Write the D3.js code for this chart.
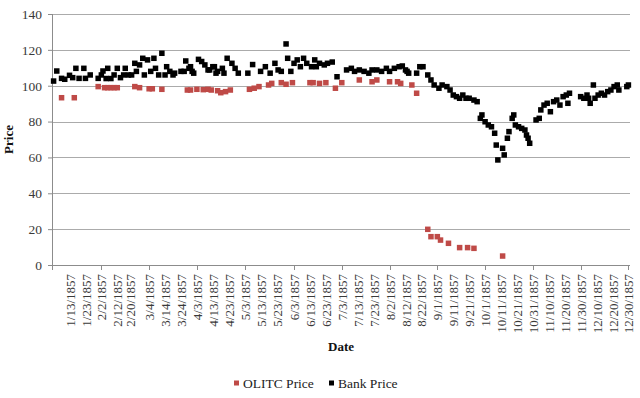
<!DOCTYPE html>
<html>
<head>
<meta charset="utf-8">
<script src="https://cdn.jsdelivr.net/npm/d3@7"></script>
<style>
	body { margin: 0; background: #fff; }
	text { font-family: "Liberation Serif", "Times New Roman", serif; }
</style>
</head>
<body>
<div id="appChart"></div>
<script>
///////////////////////////////////////////////////////////////////////////
//////////////////////////// data /////////////////////////////////////////
///////////////////////////////////////////////////////////////////////////

const year = 1857;

// [month/day, price]
const bankPrice = [
	["1/3", 102.6], ["1/5", 108.2], ["1/8", 104.1], ["1/10", 103.6], ["1/13", 105.8],
	["1/15", 104.5], ["1/17", 109.7], ["1/19", 104.1], ["1/22", 109.7], ["1/23", 104.1],
	["1/26", 106], ["1/31", 104.1], ["2/2", 106], ["2/3", 108.2], ["2/5", 104],
	["2/6", 109.7], ["2/8", 104], ["2/10", 106], ["2/12", 109.7], ["2/14", 104.5],
	["2/16", 106], ["2/17", 109.7], ["2/19", 106], ["2/21", 106], ["2/23", 112.5],
	["2/24", 108], ["2/26", 111.6], ["2/28", 115.3], ["3/1", 106], ["3/3", 114.4],
	["3/5", 108], ["3/7", 115.3], ["3/8", 109.7], ["3/10", 106], ["3/12", 118.1],
	["3/14", 106], ["3/15", 110.6], ["3/17", 108], ["3/19", 106], ["3/20", 107],
	["3/24", 108], ["3/26", 108], ["3/27", 113.8], ["3/29", 109.7], ["3/30", 110.6],
	["3/31", 108], ["4/1", 107], ["4/4", 114.7], ["4/6", 113.5], ["4/8", 111.6],
	["4/10", 108.8], ["4/11", 108.8], ["4/13", 110.6], ["4/14", 110.6], ["4/15", 107],
	["4/16", 108], ["4/19", 109.7], ["4/20", 107], ["4/22", 115.3], ["4/25", 112.5],
	["4/27", 109.7], ["4/29", 107], ["5/5", 107], ["5/8", 111.8], ["5/13", 108],
	["5/16", 110.6], ["5/19", 107], ["5/22", 112.5], ["5/24", 108.8], ["5/26", 108],
	["5/29", 123.3], ["5/30", 115.3], ["6/1", 108], ["6/3", 112.5], ["6/5", 114.4],
	["6/7", 110.6], ["6/9", 115.3], ["6/11", 112.5], ["6/14", 110.6], ["6/16", 114.4],
	["6/17", 110.6], ["6/19", 112.5], ["6/22", 111.6], ["6/24", 112.5], ["6/27", 113.2],
	["6/30", 105], ["7/6", 108.8], ["7/9", 109.7], ["7/11", 108], ["7/14", 108.8],
	["7/17", 108], ["7/20", 107], ["7/22", 108.8], ["7/25", 108.8], ["7/28", 108],
	["7/31", 109.7], ["8/2", 108], ["8/5", 109.7], ["8/8", 110.6], ["8/10", 111],
	["8/12", 108.8], ["8/13", 108], ["8/14", 107], ["8/19", 107], ["8/21", 110.6],
	["8/23", 110.6], ["8/26", 106], ["8/28", 103.2], ["8/30", 100.4], ["9/2", 98.6],
	["9/4", 100.4], ["9/7", 99.5], ["9/9", 97.6], ["9/11", 94.8], ["9/13", 93.9],
	["9/15", 93], ["9/17", 94.8], ["9/19", 93], ["9/21", 93], ["9/24", 92],
	["9/26", 91.1], ["9/28", 81.8], ["9/29", 83.7], ["10/1", 79.9], ["10/3", 78.1],
	["10/5", 77.1], ["10/7", 73.5], ["10/8", 66.9], ["10/9", 58.6], ["10/12", 65.1],
	["10/13", 61.4], ["10/15", 70.7], ["10/16", 74.4], ["10/18", 81.8], ["10/19", 83.7],
	["10/20", 78.1], ["10/22", 77.1], ["10/24", 76.2], ["10/26", 75.3], ["10/27", 72.5],
	["10/28", 70.7], ["10/29", 67.9], ["11/2", 80.9], ["11/4", 81.8], ["11/5", 86.5],
	["11/7", 89.2], ["11/9", 90.2], ["11/11", 85.5], ["11/13", 91.1], ["11/15", 92],
	["11/17", 89.2], ["11/19", 93.9], ["11/21", 94.8], ["11/22", 90.2], ["11/23", 95.8],
	["11/30", 93.9], ["12/2", 93], ["12/4", 94.8], ["12/5", 93], ["12/6", 90.2],
	["12/8", 100.4], ["12/9", 93], ["12/11", 94.8], ["12/13", 95.8], ["12/15", 94.8],
	["12/17", 96.7], ["12/19", 97.6], ["12/21", 99.5], ["12/23", 100.4], ["12/24", 97.6],
	["12/29", 99.5], ["12/30", 100.4]
];

const olitcPrice = [
	["1/8", 93.3], ["1/16", 93.3], ["1/31", 99.5], ["2/4", 98.9], ["2/6", 98.9],
	["2/8", 98.9], ["2/10", 98.9], ["2/12", 98.9], ["2/23", 99.5], ["2/26", 98.9],
	["3/4", 98.3], ["3/6", 98.3], ["3/12", 98], ["3/28", 97.6], ["3/30", 97.6],
	["4/3", 98], ["4/7", 97.8], ["4/10", 98], ["4/12", 97.6], ["4/16", 97.2],
	["4/18", 96.1], ["4/21", 96.7], ["4/24", 97.6], ["5/6", 98], ["5/9", 98.6],
	["5/12", 99.5], ["5/18", 100.4], ["5/20", 101.3], ["5/26", 101.7], ["5/29", 100.8],
	["6/2", 101.7], ["6/13", 101.7], ["6/15", 101.7], ["6/19", 101.3], ["6/23", 101.7],
	["6/29", 98.6], ["7/3", 101.7], ["7/14", 103.2], ["7/22", 102.2], ["7/25", 103.2],
	["8/2", 102.2], ["8/7", 102.2], ["8/9", 101.3], ["8/16", 100.4], ["8/19", 95.8],
	["8/26", 19.9], ["8/28", 15.8], ["9/1", 15.8], ["9/3", 13.9], ["9/8", 12.1],
	["9/15", 9.7], ["9/20", 9.7], ["9/24", 9.3], ["10/12", 5.0]
];

const dateTicks = [
	"1/13/1857", "1/23/1857", "2/2/1857", "2/12/1857", "2/20/1857", "3/4/1857",
	"3/14/1857", "3/24/1857", "4/3/1857", "4/13/1857", "4/23/1857", "5/3/1857",
	"5/13/1857", "5/23/1857", "6/3/1857", "6/13/1857", "6/23/1857", "7/3/1857",
	"7/13/1857", "7/23/1857", "8/2/1857", "8/12/1857", "8/22/1857", "9/1/1857",
	"9/11/1857", "9/21/1857", "10/1/1857", "10/11/1857", "10/21/1857", "10/31/1857",
	"11/10/1857", "11/20/1857", "11/30/1857", "12/10/1857", "12/20/1857", "12/30/1857"
];

const priceTicks = [0, 20, 40, 60, 80, 100, 120, 140];

const seriesNames = ["OLITC Price", "Bank Price"];
const seriesColors = ["#bf4a47", "#000000"];

///////////////////////////////////////////////////////////////////////////
//////////////////////////// drawing function /////////////////////////////
///////////////////////////////////////////////////////////////////////////

const createChart = () => {
	const parseDay = d3.timeParse("%m/%d/%Y");

	const toPoints = (arr) => arr.map(([md, v]) => ({ date: parseDay(md + "/" + year), value: v }));

	const series = [toPoints(olitcPrice), toPoints(bankPrice)];

	//////////////////////////// accessors ////////////////////////////////////

	const xAccessor = (d) => d.date;
	const yAccessor = (d) => d.value;

	//////////////////////////// sizes ////////////////////////////////////////

	let dimensions = {
		width: 640,
		height: 398,
		margin: { top: 14, right: 10, bottom: 133, left: 52 }
	};
	dimensions.boundedWidth = dimensions.width - dimensions.margin.left - dimensions.margin.right;
	dimensions.boundedHeight = dimensions.height - dimensions.margin.top - dimensions.margin.bottom;

	const markSize = 5.5;

	//////////////////////////// svg //////////////////////////////////////////

	const wrapper = d3.select("#appChart")
		.append("svg")
		.attr("width", dimensions.width)
		.attr("height", dimensions.height);

	wrapper.append("rect")
		.attr("width", dimensions.width)
		.attr("height", dimensions.height)
		.attr("fill", "#fff");

	const bounds = wrapper.append("g")
		.attr("transform", `translate(${dimensions.margin.left},${dimensions.margin.top})`);

	//////////////////////////// scales ///////////////////////////////////////

	const xScale = d3.scaleTime()
		.domain([new Date(year, 0, 2), new Date(year, 11, 31)])
		.range([0, dimensions.boundedWidth]);

	const yScale = d3.scaleLinear()
		.domain([0, 140])
		.range([dimensions.boundedHeight, 0]);

	//////////////////////////// grid /////////////////////////////////////////

	bounds.append("g")
		.selectAll("line")
		.data(priceTicks.filter((d) => d > 0))
		.enter()
		.append("line")
		.attr("x1", 0)
		.attr("x2", dimensions.boundedWidth)
		.attr("y1", (d) => Math.round(yScale(d)) + 0.5)
		.attr("y2", (d) => Math.round(yScale(d)) + 0.5)
		.attr("stroke", "#ababab")
		.attr("stroke-width", 1);

	//////////////////////////// axes /////////////////////////////////////////

	const yAxis = bounds.append("g")
		.call(d3.axisLeft(yScale).tickValues(priceTicks).tickSize(4).tickPadding(6));
	yAxis.select(".domain").attr("stroke", "#8c8c8c").attr("d", `M0.5,0V${dimensions.boundedHeight}`);
	yAxis.selectAll(".tick line").attr("stroke", "#8c8c8c");
	yAxis.selectAll(".tick text")
		.attr("fill", "#3a3a3a")
		.style("font-size", "13.5px")
		.style("font-family", "'Liberation Serif', serif");

	const tickDates = dateTicks.map((d) => parseDay(d));

	const xAxis = bounds.append("g")
		.attr("transform", `translate(0,${dimensions.boundedHeight})`)
		.call(d3.axisBottom(xScale)
			.tickValues(tickDates)
			.tickSize(0)
			.tickPadding(0)
			.tickFormat((d, i) => dateTicks[i]));
	xAxis.select(".domain").attr("stroke", "#8c8c8c").attr("d", `M0,0.5H${dimensions.boundedWidth}`);
	xAxis.selectAll(".tick text")
		.attr("fill", "#3a3a3a")
		.attr("transform", "translate(0,9) rotate(-90)")
		.attr("x", 0)
		.attr("y", 0)
		.attr("dy", "0.35em")
		.style("text-anchor", "end")
		.style("font-size", "13px")
		.style("font-family", "'Liberation Serif', serif");

	// every third label gets a tick mark, plus the axis origin
	const markDates = [xScale.domain()[0]].concat(tickDates.filter((d, i) => i % 3 === 2));
	xAxis.append("g")
		.selectAll("line")
		.data(markDates)
		.enter()
		.append("line")
		.attr("x1", (d) => Math.round(xScale(d)) + 0.5)
		.attr("x2", (d) => Math.round(xScale(d)) + 0.5)
		.attr("y1", 0)
		.attr("y2", 5)
		.attr("stroke", "#8c8c8c");

	//////////////////////////// labels ///////////////////////////////////////

	wrapper.append("text")
		.attr("transform", `translate(13,${dimensions.margin.top + dimensions.boundedHeight / 2}) rotate(-90)`)
		.attr("text-anchor", "middle")
		.style("font-weight", "bold")
		.style("font-size", "13px")
		.attr("fill", "#111")
		.text("Price");

	wrapper.append("text")
		.attr("x", 341)
		.attr("y", 351)
		.attr("text-anchor", "middle")
		.style("font-weight", "bold")
		.style("font-size", "13px")
		.attr("fill", "#111")
		.text("Date");

	//////////////////////////// plot /////////////////////////////////////////

	series.forEach((points, s) => {
		bounds.append("g")
			.selectAll("rect")
			.data(points)
			.enter()
			.append("rect")
			.attr("x", (d) => xScale(xAccessor(d)) - markSize / 2)
			.attr("y", (d) => yScale(yAccessor(d)) - markSize / 2)
			.attr("width", markSize)
			.attr("height", markSize)
			.attr("fill", seriesColors[s]);
	});

	//////////////////////////// legend ///////////////////////////////////////

	const legendX = [234, 329];
	const legend = wrapper.append("g")
		.selectAll("g")
		.data(seriesNames)
		.enter()
		.append("g")
		.attr("transform", (d, i) => `translate(${legendX[i]},383)`);

	legend.append("rect")
		.attr("x", 0)
		.attr("y", -2.5)
		.attr("width", 5)
		.attr("height", 5)
		.attr("fill", (d, i) => seriesColors[i]);

	legend.append("text")
		.attr("x", 9)
		.attr("y", 0)
		.attr("dy", "0.35em")
		.style("font-size", "13.5px")
		.attr("fill", "#222")
		.text((d) => d);
};

createChart();
</script>
</body>
</html>
